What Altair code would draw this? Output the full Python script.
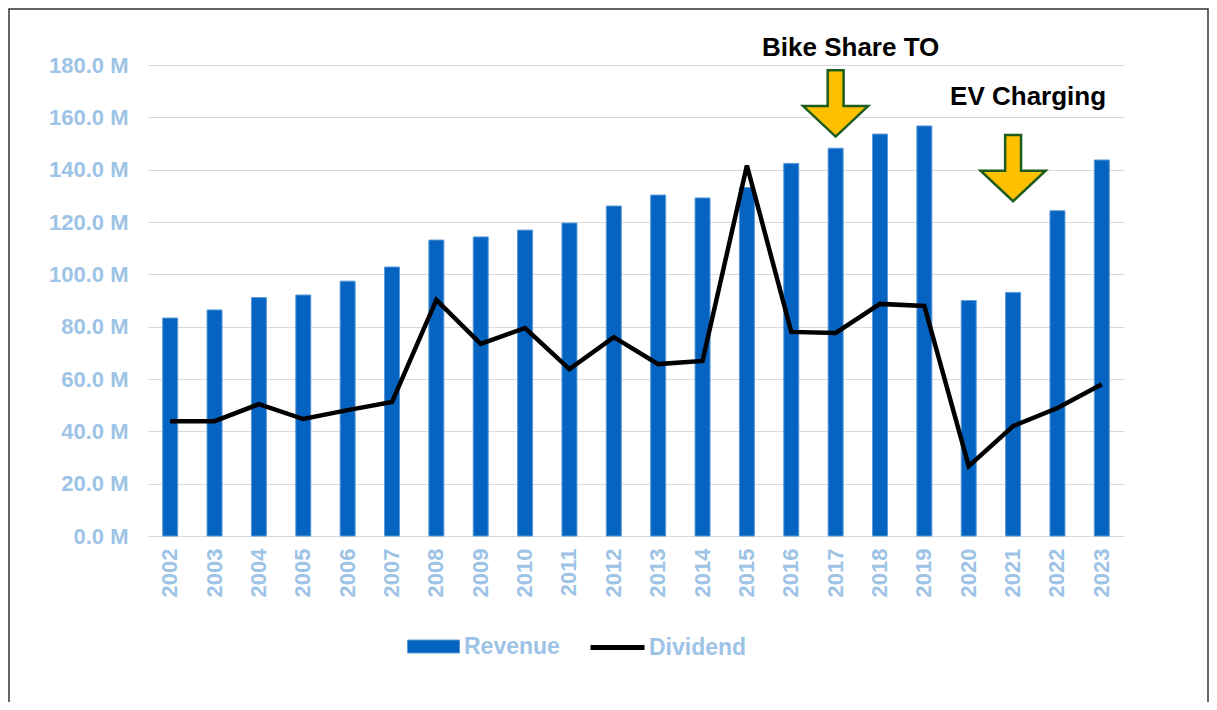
import altair as alt
import pandas as pd

years = [str(y) for y in range(2002, 2024)]
revenue = [83.3, 86.4, 91.1, 92.1, 97.4, 102.8, 113.1, 114.3, 116.9, 119.6, 126.1,
           130.3, 129.2, 133.2, 142.4, 148.2, 153.6, 156.7, 90.0, 93.1, 124.3, 143.7]
dividend = [43.9, 43.9, 50.4, 44.7, 48.1, 51.2, 90.2, 73.4, 79.5, 63.8, 76.0,
            65.7, 66.9, 141.6, 78.0, 77.6, 88.7, 87.9, 26.7, 42.0, 48.9, 58.0]

ann_years = ["2017", "2021"]
ann_arrow_y = [165.3, 140.6]
ann_text = ["Bike Share TO", "EV Charging"]
ann_text_y = [186.4, 167.7]

LABEL_BLUE = "#9DC3E6"
FONT = "Liberation Sans"

df = pd.DataFrame({"year": years, "revenue": revenue, "dividend": dividend,
                   "s1": "Revenue", "s2": "Dividend"})
ann = pd.DataFrame({"year": ann_years, "ay": ann_arrow_y, "text": ann_text, "ty": ann_text_y})

x_enc = alt.X("year:N", title=None, sort=years,
              scale=alt.Scale(paddingInner=0.0, paddingOuter=0.0),
              axis=alt.Axis(labelAngle=-90, labelAlign="right", labelBaseline="middle",
                            labelPadding=12, ticks=False, domain=True, domainColor="#D9D9D9",
                            labelColor=LABEL_BLUE, labelFont=FONT, labelFontSize=22,
                            labelFontWeight="bold", grid=False))
y_scale = alt.Scale(domain=[0, 180], nice=False, zero=True)

bars = alt.Chart(df).mark_bar(width=15, stroke="#5B9BD5", strokeWidth=1).encode(
    x=x_enc,
    y=alt.Y("revenue:Q", title=None, scale=y_scale,
            axis=alt.Axis(values=list(range(0, 181, 20)),
                          labelExpr="format(datum.value, '.1f') + ' M'",
                          labelColor=LABEL_BLUE, labelFont=FONT, labelFontSize=22,
                          labelFontWeight="bold", labelPadding=20, ticks=False,
                          domain=False, grid=True, gridColor="#D9D9D9", gridWidth=1.2)),
    color=alt.Color("s1:N", scale=alt.Scale(domain=["Revenue"], range=["#0563C1"]),
                    legend=alt.Legend(title=None, orient="none", legendX=259, legendY=555,
                                      symbolType="M-1,-0.25H1V0.25H-1Z", symbolSize=2704,
                                      symbolStrokeColor="#5B9BD5", symbolStrokeWidth=1,
                                      labelColor=LABEL_BLUE, labelFont=FONT, labelFontSize=23,
                                      labelFontWeight="bold", labelOffset=4, padding=0)),
)

line = alt.Chart(df).mark_line(strokeWidth=4.5, strokeJoin="miter", strokeCap="butt").encode(
    x=alt.X("year:N", sort=years),
    y=alt.Y("dividend:Q", scale=y_scale),
    stroke=alt.Stroke("s2:N", scale=alt.Scale(domain=["Dividend"], range=["#000000"]),
                      legend=alt.Legend(title=None, orient="none", legendX=440, legendY=553,
                                        symbolType="stroke", symbolSize=2916,
                                        symbolStrokeWidth=5,
                                        labelColor=LABEL_BLUE, labelFont=FONT, labelFontSize=23,
                                        labelFontWeight="bold", labelOffset=2, padding=0)),
)

arrow_path = "M-0.24,-1L0.24,-1L0.24,0.08L0.98,0.08L0,1L-0.98,0.08L-0.24,0.08Z"
arrows = alt.Chart(ann).mark_point(shape=arrow_path, size=4400, filled=True,
                                   fill="#FFC000", stroke="#1E5C1E", strokeWidth=2.5,
                                   opacity=1).encode(
    x=alt.X("year:N", sort=years),
    y=alt.Y("ay:Q", scale=y_scale),
)

texts = alt.Chart(ann).mark_text(font=FONT, fontSize=26, fontWeight="bold", color="#000000",
                                 align="center", baseline="middle", dx=15).encode(
    x=alt.X("year:N", sort=years),
    y=alt.Y("ty:Q", scale=y_scale),
    text="text:N",
)

frame = alt.Chart(alt.Data(values=[{"a": 1}])).mark_rect(
    fill=None, stroke="#333333", strokeWidth=1.5).encode(
    x=alt.value(-139), x2=alt.value(976 + 84),
    y=alt.value(-56), y2=alt.value(471 + 200),
)

chart = alt.layer(bars, line, arrows, texts, frame).resolve_scale(
    color="independent", stroke="independent"
).properties(
    width=976, height=471,
    padding={"left": 140, "top": 57, "right": 85, "bottom": 166},
    autosize=alt.AutoSizeParams(type="none"),
    background="white",
).configure_view(stroke="transparent", strokeWidth=0)

chart.save("out.html", embed_options={"renderer": "svg", "actions": False})
